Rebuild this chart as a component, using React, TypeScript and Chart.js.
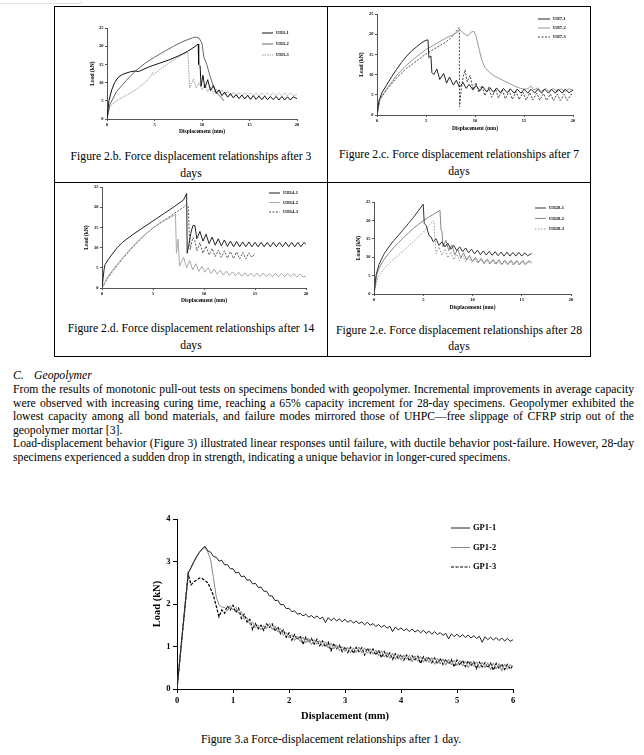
import React, { useEffect, useRef } from 'react';
import { Chart, registerables } from 'chart.js';

Chart.register(...registerables);

const SERIF = '"Liberation Serif", "Times New Roman", serif';

// ---------- Figure 2.b (3 days) ----------
const uh3_1_x = [0, 0.2, 0.5, 0.8, 1.2, 1.6, 2.0, 2.5, 3.0, 3.3, 3.8, 4.5, 5.5, 6.5, 7.5, 8.5, 9.2, 9.6, 9.65, 9.8, 9.9, 10.1, 10.3, 10.6, 10.9, 11.2, 11.5, 11.8, 12.1, 12.4, 12.7, 13.0, 13.3, 13.6, 13.9, 14.2, 14.5, 14.8, 15.1, 15.4, 15.7, 16.0, 16.3, 16.6, 16.9, 17.2, 17.5, 17.8, 18.1, 18.4, 18.7, 19.0, 19.3, 19.6, 20.0];
const uh3_1_y = [0, 5, 8, 10, 11.5, 12.2, 12.6, 13.0, 13.2, 13.0, 13.6, 14.4, 15.3, 16.2, 17.3, 18.6, 19.8, 20.6, 15.0, 14.6, 9.0, 12.0, 8.5, 10.8, 7.8, 9.2, 7.0, 8.0, 6.4, 7.4, 6.0, 7.0, 5.8, 6.7, 5.6, 6.6, 5.5, 6.5, 5.4, 6.4, 5.4, 6.3, 5.3, 6.3, 5.3, 6.2, 5.3, 6.2, 5.2, 6.2, 5.2, 6.1, 5.2, 6.1, 5.6];
const uh3_2_x = [0, 0.3, 1, 2, 3, 4, 5, 6, 7, 8, 9, 9.3, 9.7, 10.0, 10.2, 10.5, 10.8, 11.2, 11.6, 12.0, 12.3];
const uh3_2_y = [0, 4, 7.5, 10.5, 13.2, 15.3, 17, 18.5, 20, 21.3, 22.3, 22.5, 22.2, 20.8, 17, 15, 12.2, 9, 7, 6, 5];
const uh3_3_x = [0, 0.3, 1, 2, 3, 4, 4.7, 4.8, 4.9, 5.5, 6.5, 7.5, 8.5, 8.6, 8.7, 8.8, 9.1, 9.4, 9.7, 10.0, 10.3, 10.6, 10.9, 11.2, 11.5, 11.8, 12.1, 12.4, 12.7, 13.0, 13.3, 13.6, 13.9, 14.2, 14.5, 14.8, 15.1, 15.4, 15.7, 16.0, 16.3, 16.6, 16.9, 17.2, 17.5, 17.8, 18.1, 18.4, 18.7, 19.0, 19.3, 19.6, 20.0];
const uh3_3_y = [0, 3.5, 5, 6.5, 8, 10, 12, 12.8, 12.2, 13.5, 15.3, 17, 18.4, 14, 8.5, 9, 11, 8.5, 10, 8, 9.5, 7.5, 8.8, 7, 8.2, 7.2, 8.0, 6.6, 7.6, 6.4, 7.4, 6.3, 7.3, 6.3, 7.2, 6.3, 7.2, 6.3, 7.2, 6.3, 7.2, 6.4, 7.2, 6.4, 7.2, 6.4, 7.2, 6.4, 7.2, 6.4, 7.2, 6.4, 6.8];

// ---------- Figure 2.c (7 days) ----------
const uh7_1_x = [0, 0.2, 0.5, 1, 1.5, 2, 2.5, 3, 3.5, 4, 4.5, 5, 5.2, 5.3, 5.5, 5.6, 5.8, 6.1, 6.4, 6.8, 7.1, 7.4, 7.8, 8.1, 8.4, 8.8, 9.1, 9.4, 9.8, 10.1, 10.5, 10.8, 11.2, 11.5, 11.9, 12.2, 12.6, 12.9, 13.3, 13.6, 14, 14.3, 14.7, 15, 15.4, 15.7, 16.1, 16.4, 16.8, 17.1, 17.5, 17.8, 18.2, 18.5, 18.9, 19.2, 19.6, 20];
const uh7_1_y = [0, 3.5, 5.5, 7.5, 9.5, 11.3, 13, 14.5, 15.8, 16.8, 17.8, 18.5, 18.6, 14.2, 14.6, 10.5, 10, 11.4, 8.8, 10.3, 7.9, 9.4, 7.4, 8.6, 6.9, 8.0, 6.6, 7.6, 6.2, 7.3, 6.0, 7.0, 5.7, 6.8, 5.6, 6.7, 5.5, 6.6, 5.5, 6.5, 5.4, 6.4, 5.4, 6.4, 5.4, 6.4, 5.4, 6.4, 5.4, 6.4, 5.4, 6.4, 5.4, 6.4, 5.4, 6.4, 5.5, 6.2];
const uh7_2_x = [0, 0.3, 1, 2, 3, 4, 5, 6, 7, 8, 8.5, 9.0, 9.3, 9.6, 9.9, 10.1, 10.4, 10.7, 11, 11.5, 12, 12.5, 13, 13.5, 14, 14.5, 15, 15.4, 15.7, 16, 16.4, 16.8, 17.2, 17.6, 18, 18.4, 18.8, 19.2, 19.6, 20];
const uh7_2_y = [0, 4, 6.5, 9.8, 12.3, 14.4, 16.2, 17.6, 19, 20.2, 21, 19.9, 19.6, 20.5, 20.7, 19.5, 16.5, 13.5, 11.8, 10.5, 9.6, 9, 8.4, 7.8, 7.2, 6.7, 6.4, 6.5, 7.2, 6.2, 6.7, 5.9, 6.6, 5.8, 6.6, 5.8, 6.5, 5.8, 6.5, 6.2];
const uh7_3_x = [0, 0.3, 1, 2, 3, 4, 5, 6, 7, 7.5, 8, 8.4, 8.42, 8.6, 8.8, 9.0, 9.2, 9.5, 9.8, 10.1, 10.4, 10.7, 11, 11.4, 11.7, 12.1, 12.4, 12.8, 13.1, 13.5, 13.8, 14.2, 14.5, 14.9, 15.2, 15.6, 15.9, 16.3, 16.6, 17, 17.3, 17.7, 18, 18.4, 18.7, 19.1, 19.4, 19.8, 20];
const uh7_3_y = [0, 3.8, 6.3, 9.2, 11.5, 13.3, 15.1, 16.6, 18, 19, 20.4, 21.7, 2.0, 6.5, 9.5, 11.2, 8.2, 9.8, 6.3, 8, 5.6, 7.3, 4.8, 6.8, 4.4, 6.4, 4.2, 6.2, 4.0, 6.0, 3.9, 5.8, 3.8, 5.6, 3.7, 5.5, 3.7, 5.4, 3.7, 5.3, 3.6, 5.2, 3.6, 5.2, 3.6, 5.1, 3.6, 5.1, 4.9];

// ---------- Figure 2.d (14 days) ----------
const uh14_1_x = [0, 0.2, 0.3, 0.6, 1, 1.5, 2, 3, 4, 5, 6, 7, 8, 8.3, 8.35, 8.5, 8.7, 8.9, 9.1, 9.3, 9.6, 9.9, 10.2, 10.5, 10.8, 11.1, 11.4, 11.7, 12, 12.3, 12.6, 12.9, 13.2, 13.5, 13.8, 14.1, 14.4, 14.7, 15, 15.3, 15.6, 15.9, 16.2, 16.5, 16.8, 17.1, 17.4, 17.7, 18, 18.3, 18.6, 18.9, 19.2, 19.5, 19.8, 20];
const uh14_1_y = [0, 4.5, 5.8, 7, 8.4, 10, 11.3, 13.2, 14.9, 16.6, 18.3, 20, 21.8, 23.4, 8.6, 10.5, 13.5, 15.4, 15.5, 12.2, 14.0, 11.6, 13.3, 11.0, 12.6, 10.6, 12.2, 10.4, 11.9, 10.3, 11.6, 10.2, 11.5, 10.2, 11.4, 10.2, 11.4, 10.2, 11.3, 10.2, 11.3, 10.2, 11.3, 10.2, 11.3, 10.2, 11.3, 10.2, 11.3, 10.2, 11.3, 10.2, 11.3, 10.2, 11.3, 10.8];
const uh14_2_x = [0, 0.5, 1, 2, 3, 4, 5, 6, 7, 7.2, 7.3, 7.45, 7.6, 7.8, 8.0, 8.3, 8.6, 8.9, 9.2, 9.5, 9.8, 10.1, 10.4, 10.7, 11, 11.3, 11.6, 11.9, 12.2, 12.5, 12.8, 13.1, 13.4, 13.7, 14, 14.3, 14.6, 14.9, 15.2, 15.5, 15.8, 16.1, 16.4, 16.7, 17, 17.3, 17.6, 17.9, 18.2, 18.5, 18.8, 19.1, 19.4, 19.7, 20];
const uh14_2_y = [0, 2.5, 4.3, 7.4, 10.3, 12.8, 14.9, 16.5, 17.9, 18.3, 8.6, 12.1, 5.4, 6.6, 7.6, 5.0, 6.8, 4.5, 6.0, 4.1, 5.4, 3.9, 5.0, 3.6, 4.7, 3.4, 4.4, 3.2, 4.2, 3.1, 4.0, 3.0, 3.9, 2.9, 3.8, 2.9, 3.7, 2.8, 3.7, 2.8, 3.7, 2.8, 3.6, 2.8, 3.6, 2.8, 3.6, 2.8, 3.6, 2.8, 3.6, 2.7, 3.5, 2.7, 3.0];
const uh14_3_x = [0, 0.5, 1, 2, 3, 4, 5, 6, 7, 8, 8.3, 8.45, 8.55, 8.65, 8.9, 9.1, 9.3, 9.6, 9.9, 10.2, 10.5, 10.8, 11.1, 11.4, 11.7, 12, 12.3, 12.6, 12.9, 13.2, 13.5, 13.8, 14.1, 14.4, 14.7, 15];
const uh14_3_y = [0, 2.2, 4.0, 7.2, 10.1, 12.7, 14.9, 16.6, 18.3, 20.0, 20.7, 20.2, 14, 9.5, 12.5, 11.8, 9.2, 11.2, 8.6, 10.4, 8.2, 9.8, 7.8, 9.4, 7.6, 9.2, 7.4, 9.0, 7.3, 8.9, 7.2, 8.8, 7.2, 8.7, 7.6, 8.6];

// ---------- Figure 2.e (28 days) ----------
const uh28_1_x = [0, 0.2, 0.5, 1, 1.5, 2, 2.5, 3, 3.5, 4, 4.5, 5, 5.1, 5.3, 5.6, 5.8, 6, 6.3, 6.6, 6.9, 7.2, 7.5, 7.8, 8.1, 8.4, 8.7, 9, 9.3, 9.6, 9.9, 10.2, 10.5, 10.8, 11.1, 11.4, 11.7, 12, 12.3, 12.6, 12.9, 13.2, 13.5, 13.8, 14.1, 14.4, 14.7, 15, 15.3, 15.6, 16];
const uh28_1_y = [0, 5, 8, 10.8, 12.8, 14.5, 16, 17.6, 19.2, 20.8, 22.6, 24.4, 19.2, 18.6, 15.8, 15.5, 14.2, 15, 13.2, 14.2, 12.8, 13.8, 12.2, 13.2, 11.8, 12.8, 11.5, 12.5, 11.2, 12.2, 10.9, 11.9, 10.7, 11.7, 10.6, 11.6, 10.5, 11.5, 10.4, 11.4, 10.3, 11.4, 10.3, 11.3, 10.3, 11.3, 10.3, 11.2, 10.4, 11];
const uh28_2_x = [0, 0.3, 0.6, 1, 1.5, 2, 2.5, 3, 3.5, 4, 4.5, 5, 5.5, 6, 6.5, 6.7, 6.8, 6.9, 7.0, 7.3, 7.6, 7.9, 8.2, 8.5, 8.8, 9.1, 9.4, 9.7, 10, 10.3, 10.6, 10.9, 11.2, 11.5, 11.8, 12.1, 12.4, 12.7, 13, 13.3, 13.6, 13.9, 14.2, 14.5, 14.8, 15.1, 15.4, 15.7, 16];
const uh28_2_y = [0, 5.5, 7.5, 9.3, 11, 12.6, 14, 15.3, 16.6, 17.8, 18.9, 19.9, 20.8, 21.6, 22.4, 22.8, 17.5, 17.0, 12.8, 14.6, 11.8, 13.4, 10.6, 12.2, 9.8, 11.2, 9.2, 10.5, 8.8, 10, 8.5, 9.7, 8.3, 9.5, 8.2, 9.4, 8.1, 9.3, 8.0, 9.2, 8.0, 9.2, 8.0, 9.1, 8.0, 9.1, 8.0, 9.0, 8.6];
const uh28_3_x = [0, 0.3, 0.6, 1, 1.5, 2, 2.5, 3, 3.5, 4, 4.5, 5, 5.5, 6, 6.1, 6.25, 6.3, 6.6, 6.9, 7.2, 7.5, 7.8, 8.1, 8.4, 8.7, 9, 9.3, 9.6, 9.9, 10.2, 10.5, 10.8, 11.1, 11.4, 11.7, 12, 12.3, 12.6, 12.9, 13.2, 13.5, 13.8, 14.1, 14.4, 14.7, 15, 15.3, 15.6, 16];
const uh28_3_y = [0, 3.8, 5.5, 6.8, 8.2, 9.5, 10.6, 11.8, 13, 14.2, 15.5, 16.8, 18.3, 19.9, 19.5, 12.5, 11.0, 12.8, 10.6, 12.2, 9.8, 11.4, 9.3, 10.8, 9.0, 10.4, 8.8, 10, 8.6, 9.7, 8.4, 9.5, 8.3, 9.3, 8.2, 9.2, 8.1, 9.1, 8.0, 9.0, 8.0, 9.0, 7.9, 8.9, 7.9, 8.9, 8.0, 8.8, 8.4];

// ---------- Figure 3.a (geopolymer, 1 day) ----------
const gp_x = [0, 0.1, 0.2, 0.25, 0.3, 0.35, 0.4, 0.45,
  0.5, 0.55, 0.6, 0.65, 0.7, 0.75, 0.8, 0.85, 0.9, 0.95,
  1.0, 1.05, 1.1, 1.15, 1.2, 1.25, 1.3, 1.35, 1.4, 1.45,
  1.5, 1.55, 1.6, 1.65, 1.7, 1.75, 1.8, 1.85, 1.9, 1.95,
  2.0, 2.05, 2.1, 2.15, 2.2, 2.25, 2.3, 2.35, 2.4, 2.45,
  2.5, 2.55, 2.6, 2.65, 2.7, 2.75, 2.8, 2.85, 2.9, 2.95,
  3.0, 3.05, 3.1, 3.15, 3.2, 3.25, 3.3, 3.35, 3.4, 3.45,
  3.5, 3.55, 3.6, 3.65, 3.7, 3.75, 3.8, 3.85, 3.9, 3.95,
  4.0, 4.05, 4.1, 4.15, 4.2, 4.25, 4.3, 4.35, 4.4, 4.45,
  4.5, 4.55, 4.6, 4.65, 4.7, 4.75, 4.8, 4.85, 4.9, 4.95,
  5.0, 5.05, 5.1, 5.15, 5.2, 5.25, 5.3, 5.35, 5.4, 5.45,
  5.5, 5.55, 5.6, 5.65, 5.7, 5.75, 5.8, 5.85, 5.9, 5.95,
  6.0];
const gp1_1_y = [0, 1.38, 2.72, 2.86, 3.0, 3.12, 3.22, 3.30,
  3.36, 3.25, 3.22, 3.12, 3.10, 3.01, 3.03, 2.92, 2.93, 2.83,
  2.83, 2.73, 2.75, 2.64, 2.66, 2.56, 2.57, 2.47, 2.49, 2.39,
  2.40, 2.30, 2.30, 2.19, 2.19, 2.08, 2.09, 1.98, 1.99, 1.89,
  1.90, 1.82, 1.84, 1.76, 1.78, 1.72, 1.76, 1.69, 1.73, 1.67,
  1.72, 1.65, 1.69, 1.56, 1.68, 1.61, 1.67, 1.60, 1.65, 1.58,
  1.64, 1.57, 1.62, 1.55, 1.60, 1.54, 1.58, 1.51, 1.57, 1.50,
  1.54, 1.47, 1.52, 1.45, 1.50, 1.43, 1.48, 1.35, 1.46, 1.39,
  1.44, 1.37, 1.42, 1.35, 1.41, 1.34, 1.39, 1.32, 1.38, 1.31,
  1.36, 1.29, 1.35, 1.28, 1.33, 1.26, 1.31, 1.18, 1.30, 1.23,
  1.29, 1.22, 1.28, 1.21, 1.27, 1.20, 1.25, 1.19, 1.24, 1.10,
  1.23, 1.16, 1.22, 1.15, 1.21, 1.14, 1.20, 1.13, 1.19, 1.12,
  1.16];
const gp1_2_y = [0, 1.37, 2.74, 2.84, 2.98, 3.10, 3.21, 3.28,
  3.33, 3.22, 3.05, 2.62, 2.18, 1.98, 1.93, 1.92, 1.84, 1.96,
  1.86, 1.93, 1.78, 1.82, 1.64, 1.68, 1.52, 1.58, 1.44, 1.50,
  1.39, 1.50, 1.42, 1.54, 1.40, 1.48, 1.34, 1.42, 1.26, 1.33,
  1.20, 1.28, 1.14, 1.24, 1.12, 1.22, 1.08, 1.19, 1.04, 1.16,
  1.05, 1.14, 1.00, 1.11, 0.96, 1.08, 0.94, 1.04, 0.90, 1.00,
  0.88, 0.98, 0.85, 0.97, 0.86, 0.99, 0.85, 0.97, 0.84, 0.95,
  0.82, 0.92, 0.78, 0.90, 0.75, 0.86, 0.72, 0.84, 0.70, 0.82,
  0.68, 0.80, 0.70, 0.79, 0.64, 0.78, 0.65, 0.77, 0.63, 0.75,
  0.62, 0.74, 0.58, 0.72, 0.59, 0.71, 0.56, 0.70, 0.57, 0.68,
  0.55, 0.67, 0.54, 0.66, 0.50, 0.65, 0.53, 0.64, 0.49, 0.63,
  0.50, 0.62, 0.45, 0.61, 0.47, 0.60, 0.42, 0.59, 0.46, 0.58,
  0.52];
const gp1_3_y = [0, 1.35, 2.70, 2.45, 2.52, 2.56, 2.61, 2.60,
  2.55, 2.50, 2.36, 2.20, 1.95, 1.70, 1.86, 1.78, 1.95, 1.86,
  1.97, 1.80, 1.90, 1.66, 1.76, 1.58, 1.64, 1.40, 1.54, 1.42,
  1.50, 1.38, 1.53, 1.45, 1.53, 1.36, 1.46, 1.30, 1.39, 1.22,
  1.32, 1.15, 1.28, 1.16, 1.25, 1.05, 1.22, 1.10, 1.19, 1.06,
  1.17, 1.02, 1.13, 0.99, 1.10, 0.90, 1.07, 0.95, 1.03, 0.88,
  0.99, 0.86, 0.98, 0.84, 0.98, 0.88, 0.97, 0.80, 0.96, 0.84,
  0.94, 0.80, 0.91, 0.74, 0.88, 0.76, 0.85, 0.70, 0.83, 0.72,
  0.81, 0.68, 0.80, 0.66, 0.78, 0.69, 0.77, 0.60, 0.76, 0.66,
  0.75, 0.62, 0.73, 0.60, 0.72, 0.58, 0.70, 0.59, 0.69, 0.52,
  0.68, 0.56, 0.67, 0.53, 0.66, 0.55, 0.64, 0.48, 0.63, 0.52,
  0.62, 0.50, 0.61, 0.44, 0.60, 0.48, 0.59, 0.46, 0.58, 0.47,
  0.55];

type Series = { label: string; xs: number[]; ys: number[]; color: string; dash?: number[]; width?: number };
type Spec = {
  L: number; R: number; T: number; B: number; yTitleX: number; xTitleY: number;
  xMax: number; xStep: number; yMax: number; yStep: number;
  tickSize: number; titleSize: number; tickLen: number; tickPad: number; axisColor: string;
  legX: number; legY: number; legDy: number; legLen: number; legGap: number; legSize: number;
  series: Series[];
};

const insideLegend = {
  id: 'insideLegend',
  afterDatasetsDraw(chart: any, _a: any, opts: any) {
    const ctx = chart.ctx;
    ctx.save();
    chart.data.datasets.forEach((ds: any, i: number) => {
      const y = opts.y + i * opts.dy;
      ctx.beginPath();
      ctx.strokeStyle = ds.borderColor;
      ctx.lineWidth = ds.borderWidth;
      ctx.setLineDash(ds.borderDash || []);
      ctx.moveTo(opts.x, y);
      ctx.lineTo(opts.x + opts.len, y);
      ctx.stroke();
      ctx.setLineDash([]);
      ctx.fillStyle = '#000';
      ctx.font = `bold ${opts.size}px ${SERIF}`;
      ctx.textAlign = 'left';
      ctx.textBaseline = 'middle';
      ctx.fillText(ds.label, opts.x + opts.len + opts.gap, y);
    });
    ctx.restore();
  },
};

function PlotChart({ s }: { s: Spec }) {
  const ref = useRef<HTMLCanvasElement | null>(null);
  const lh = s.titleSize * 1.2;
  const boxL = Math.floor(s.yTitleX - lh / 2) - 2;
  const boxT = s.T - 8;
  const boxR = s.R + 12;
  const boxB = Math.ceil(s.xTitleY + lh / 2) + 2;
  const W = boxR - boxL;
  const H = boxB - boxT;
  const wy = s.L - s.yTitleX + lh / 2;
  const hx = s.xTitleY - s.B + lh / 2;
  useEffect(() => {
    const tickFont = { family: SERIF, size: s.tickSize, weight: 'bold' as const };
    const titleFont = { family: SERIF, size: s.titleSize, weight: 'bold' as const };
    const axis = (max: number, step: number, title: string) => ({
      type: 'linear' as const,
      min: 0,
      max,
      ticks: { stepSize: step, font: tickFont, color: '#000', padding: s.tickPad, maxRotation: 0, autoSkip: false },
      grid: { drawOnChartArea: false, drawTicks: true, tickLength: s.tickLen, color: s.axisColor, lineWidth: 1 },
      border: { display: true, color: s.axisColor, width: 1 },
      title: { display: true, text: title, font: titleFont, color: '#000', padding: 0 },
    });
    const chart = new Chart(ref.current as HTMLCanvasElement, {
      type: 'line',
      data: {
        datasets: s.series.map((se) => ({
          label: se.label,
          data: se.xs.map((x, i) => ({ x, y: se.ys[i] })),
          borderColor: se.color,
          borderWidth: se.width ?? 1,
          borderDash: se.dash ?? [],
          pointRadius: 0,
          tension: 0,
          fill: false,
        })),
      },
      options: {
        responsive: false,
        animation: false,
        devicePixelRatio: 1,
        layout: { padding: { left: s.L - boxL - wy, top: s.T - boxT, right: boxR - s.R, bottom: boxB - s.B - hx } },
        plugins: {
          legend: { display: false },
          tooltip: { enabled: false },
          insideLegend: { x: s.legX - boxL, y: s.legY - boxT, dy: s.legDy, len: s.legLen, gap: s.legGap, size: s.legSize },
        } as any,
        scales: {
          x: { ...axis(s.xMax, s.xStep, 'Displacement (mm)'), position: 'bottom', afterFit: (sc: any) => { sc.height = hx; } },
          y: { ...axis(s.yMax, s.yStep, 'Load (kN)'), position: 'left', afterFit: (sc: any) => { sc.width = wy; } },
        } as any,
      },
      plugins: [insideLegend as any],
    });
    return () => chart.destroy();
  }, []);
  return <canvas ref={ref} width={W} height={H} style={{ position: 'absolute', left: boxL, top: boxT, width: W, height: H }} />;
}

const small = { tickSize: 4.5, titleSize: 5.5, tickLen: 2, tickPad: 1.5, axisColor: '#555', legLen: 11, legGap: 3, legSize: 4.5, xMax: 20, xStep: 5, yMax: 25, yStep: 5 };

const specs: Spec[] = [
  { ...small, L: 107, R: 297, T: 28, B: 119, yTitleX: 93, xTitleY: 132, legX: 262, legY: 33, legDy: 11,
    series: [
      { label: 'UH3-1', xs: uh3_1_x, ys: uh3_1_y, color: '#111' },
      { label: 'UH3-2', xs: uh3_2_x, ys: uh3_2_y, color: '#666' },
      { label: 'UH3-3', xs: uh3_3_x, ys: uh3_3_y, color: '#999', dash: [1.5, 1] },
    ] },
  { ...small, L: 377, R: 573, T: 14, B: 115, yTitleX: 362, xTitleY: 129, legX: 538, legY: 19, legDy: 9, legLen: 12,
    series: [
      { label: 'UH7-1', xs: uh7_1_x, ys: uh7_1_y, color: '#222' },
      { label: 'UH7-2', xs: uh7_2_x, ys: uh7_2_y, color: '#999' },
      { label: 'UH7-3', xs: uh7_3_x, ys: uh7_3_y, color: '#444', dash: [2, 1.5] },
    ] },
  { ...small, L: 102, R: 306, T: 187, B: 288, yTitleX: 87, xTitleY: 301, legX: 269, legY: 193, legDy: 9.5,
    series: [
      { label: 'UH14-1', xs: uh14_1_x, ys: uh14_1_y, color: '#222' },
      { label: 'UH14-2', xs: uh14_2_x, ys: uh14_2_y, color: '#aaa' },
      { label: 'UH14-3', xs: uh14_3_x, ys: uh14_3_y, color: '#555', dash: [2, 1.5] },
    ] },
  { ...small, L: 374, R: 571, T: 202, B: 294, yTitleX: 359, xTitleY: 308, legX: 535, legY: 208, legDy: 10.5,
    series: [
      { label: 'UH28-1', xs: uh28_1_x, ys: uh28_1_y, color: '#333' },
      { label: 'UH28-2', xs: uh28_2_x, ys: uh28_2_y, color: '#888' },
      { label: 'UH28-3', xs: uh28_3_x, ys: uh28_3_y, color: '#999', dash: [1.5, 1.5] },
    ] },
  { L: 177, R: 513, T: 519, B: 689, yTitleX: 157, xTitleY: 716, xMax: 6, xStep: 1, yMax: 4, yStep: 1,
    tickSize: 8.5, titleSize: 10.5, tickLen: 4, tickPad: 2.5, axisColor: '#000',
    legX: 451, legY: 528, legDy: 19.5, legLen: 19, legGap: 3, legSize: 8.5,
    series: [
      { label: 'GP1-1', xs: gp_x, ys: gp1_1_y, color: '#222' },
      { label: 'GP1-2', xs: gp_x, ys: gp1_2_y, color: '#888' },
      { label: 'GP1-3', xs: gp_x, ys: gp1_3_y, color: '#000', dash: [3, 1.5], width: 1.2 },
    ] },
];

const captions = [
  { cx: 191, ys: [157, 174], lines: ['Figure 2.b. Force displacement relationships after 3', 'days'] },
  { cx: 459, ys: [155, 172], lines: ['Figure 2.c. Force displacement relationships after 7', 'days'] },
  { cx: 191, ys: [329, 346], lines: ['Figure 2.d. Force displacement relationships after 14', 'days'] },
  { cx: 459, ys: [331, 347], lines: ['Figure 2.e. Force displacement relationships after 28', 'days'] },
];

const paraLines = [
  { t: 'From the results of monotonic pull-out tests on specimens bonded with geopolymer. Incremental improvements in average capacity', j: true },
  { t: 'were observed with increasing curing time, reaching a 65% capacity increment for 28-day specimens. Geopolymer exhibited the', j: true },
  { t: 'lowest capacity among all bond materials, and failure modes mirrored those of UHPC\u2014free slippage of CFRP strip out of the', j: true },
  { t: 'geopolymer mortar [3].', j: false },
  { t: 'Load-displacement behavior (Figure 3) illustrated linear responses until failure, with ductile behavior post-failure. However, 28-day', j: true },
  { t: 'specimens experienced a sudden drop in strength, indicating a unique behavior in longer-cured specimens.', j: false },
];

const TXT = 11.7;

export default function App() {
  const abs = (o: React.CSSProperties): React.CSSProperties => ({ position: 'absolute', ...o });
  return (
    <div style={{ position: 'absolute', left: 0, top: 0, width: 644, height: 755, background: '#fff', fontFamily: SERIF, color: '#000', overflow: 'hidden' }}>
      <div style={abs({ left: 0, top: 0, width: 81, height: 3, borderRight: '1px solid #e4e4e4', borderBottom: '1px solid #e4e4e4' })} />
      <div style={abs({ left: 54, top: 6, width: 537, height: 351, border: '1px solid #000', boxSizing: 'border-box' })} />
      <div style={abs({ left: 327, top: 6, width: 1, height: 351, background: '#000' })} />
      <div style={abs({ left: 54, top: 182, width: 537, height: 1, background: '#000' })} />
      {captions.map((c, k) =>
        c.lines.map((ln, i) => (
          <div key={`${k}-${i}`} style={abs({ left: c.cx - 140, width: 280, top: c.ys[i] - 7, height: 14, lineHeight: '14px', fontSize: TXT, textAlign: 'center', whiteSpace: 'nowrap' })}>{ln}</div>
        ))
      )}
      {specs.map((s, i) => <PlotChart key={i} s={s} />)}
      <div style={abs({ left: 13, top: 369, lineHeight: '14px', fontSize: TXT, fontStyle: 'italic' })}>C.</div>
      <div style={abs({ left: 34, top: 369, lineHeight: '14px', fontSize: TXT, fontStyle: 'italic' })}>Geopolymer</div>
      {paraLines.map((p, i) => (
        <div key={i} style={abs({ left: 13, width: 621, top: 383 + i * 13.6, lineHeight: '14px', fontSize: TXT, textAlign: p.j ? 'justify' : 'left', textAlignLast: p.j ? 'justify' : 'left' })}>{p.t}</div>
      ))}
      <div style={abs({ left: 201, top: 733, lineHeight: '14px', fontSize: TXT, whiteSpace: 'nowrap' })}>Figure 3.a Force-displacement relationships after 1 day.</div>
    </div>
  );
}
